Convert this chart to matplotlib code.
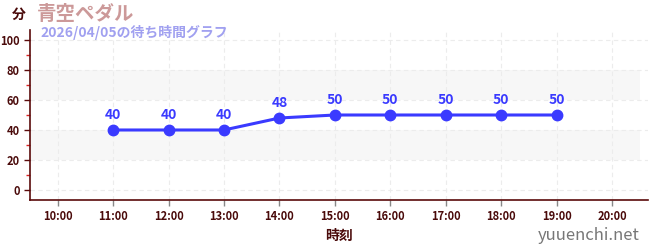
import matplotlib
matplotlib.use('Agg')
import matplotlib.pyplot as plt
from matplotlib.ticker import MultipleLocator

plt.rcParams['font.family'] = ['Noto Sans CJK JP', 'DejaVu Sans']

hours = [11, 12, 13, 14, 15, 16, 17, 18, 19]
waits = [40, 40, 40, 48, 50, 50, 50, 50, 50]
xticks = list(range(10, 21))
xticklabels = ['%d:00' % h for h in xticks]
yticks = [0, 20, 40, 60, 80, 100]

dark = '#5a0a0a'
blue = '#3a3aff'

fig = plt.figure(figsize=(6.5, 2.5), dpi=100)
ax = fig.add_axes([30 / 650, 50 / 250, 618 / 650, 170 / 250])

ax.set_xlim(9.5, 20.65)
ax.set_ylim(-6.7, 106.7)

# grey bands, stopping a little short of the right edge
for lo, hi in [(20, 40), (60, 80)]:
    ax.axhspan(lo, hi, xmax=610 / 618, color='#f7f7f7', zorder=0, lw=0)

ax.set_xticks(xticks)
ax.set_xticklabels(xticklabels)
ax.set_yticks(yticks)
ax.yaxis.set_minor_locator(MultipleLocator(10))
ax.grid(True, which='major', color='#ececec', ls=(0, (4, 3)), lw=0.8, zorder=0)

for s in ['top', 'right']:
    ax.spines[s].set_visible(False)
for s in ['left', 'bottom']:
    ax.spines[s].set_color(dark)
    ax.spines[s].set_linewidth(1.2)

ax.tick_params(axis='both', which='major', colors=dark, labelsize=8.5, length=4, width=1)
ax.tick_params(axis='y', which='minor', colors='#dd2222', length=3, width=1)
ax.tick_params(axis='x', which='major', color='#888888')
for lab in ax.get_xticklabels() + ax.get_yticklabels():
    lab.set_color('#4a0a0a')
    lab.set_fontweight('bold')
    lab.set_fontsize(8)

ax.plot(hours, waits, color=blue, lw=2.2, marker='o', ms=7.5, zorder=3)
for h, w in zip(hours, waits):
    ax.annotate(str(w), (h, w), xytext=(0, 6), textcoords='offset points',
                ha='center', va='bottom', color=blue, fontsize=10, fontweight='bold')

ax.set_xlabel('時刻', color='#4a0a0a', fontsize=10, fontweight='bold', labelpad=4)

fig.text(12 / 650, 1 - 15 / 250, '分', color='#4a0a0a', fontsize=10, fontweight='bold', va='center')
fig.text(37 / 650, 1 - 14 / 250, '青空ペダル', color='#cc9999', fontsize=14, fontweight='bold', va='center')
fig.text(40 / 650, 1 - 32 / 250, '2026/04/05の待ち時間グラフ', color='#a0a0f0', fontsize=10,
         fontweight='bold', va='center')
fig.text(640 / 650, 1 - 235 / 250, 'yuuenchi.net', color='#777777', fontsize=12, ha='right', va='center')

fig.savefig('out.png', dpi=100)
